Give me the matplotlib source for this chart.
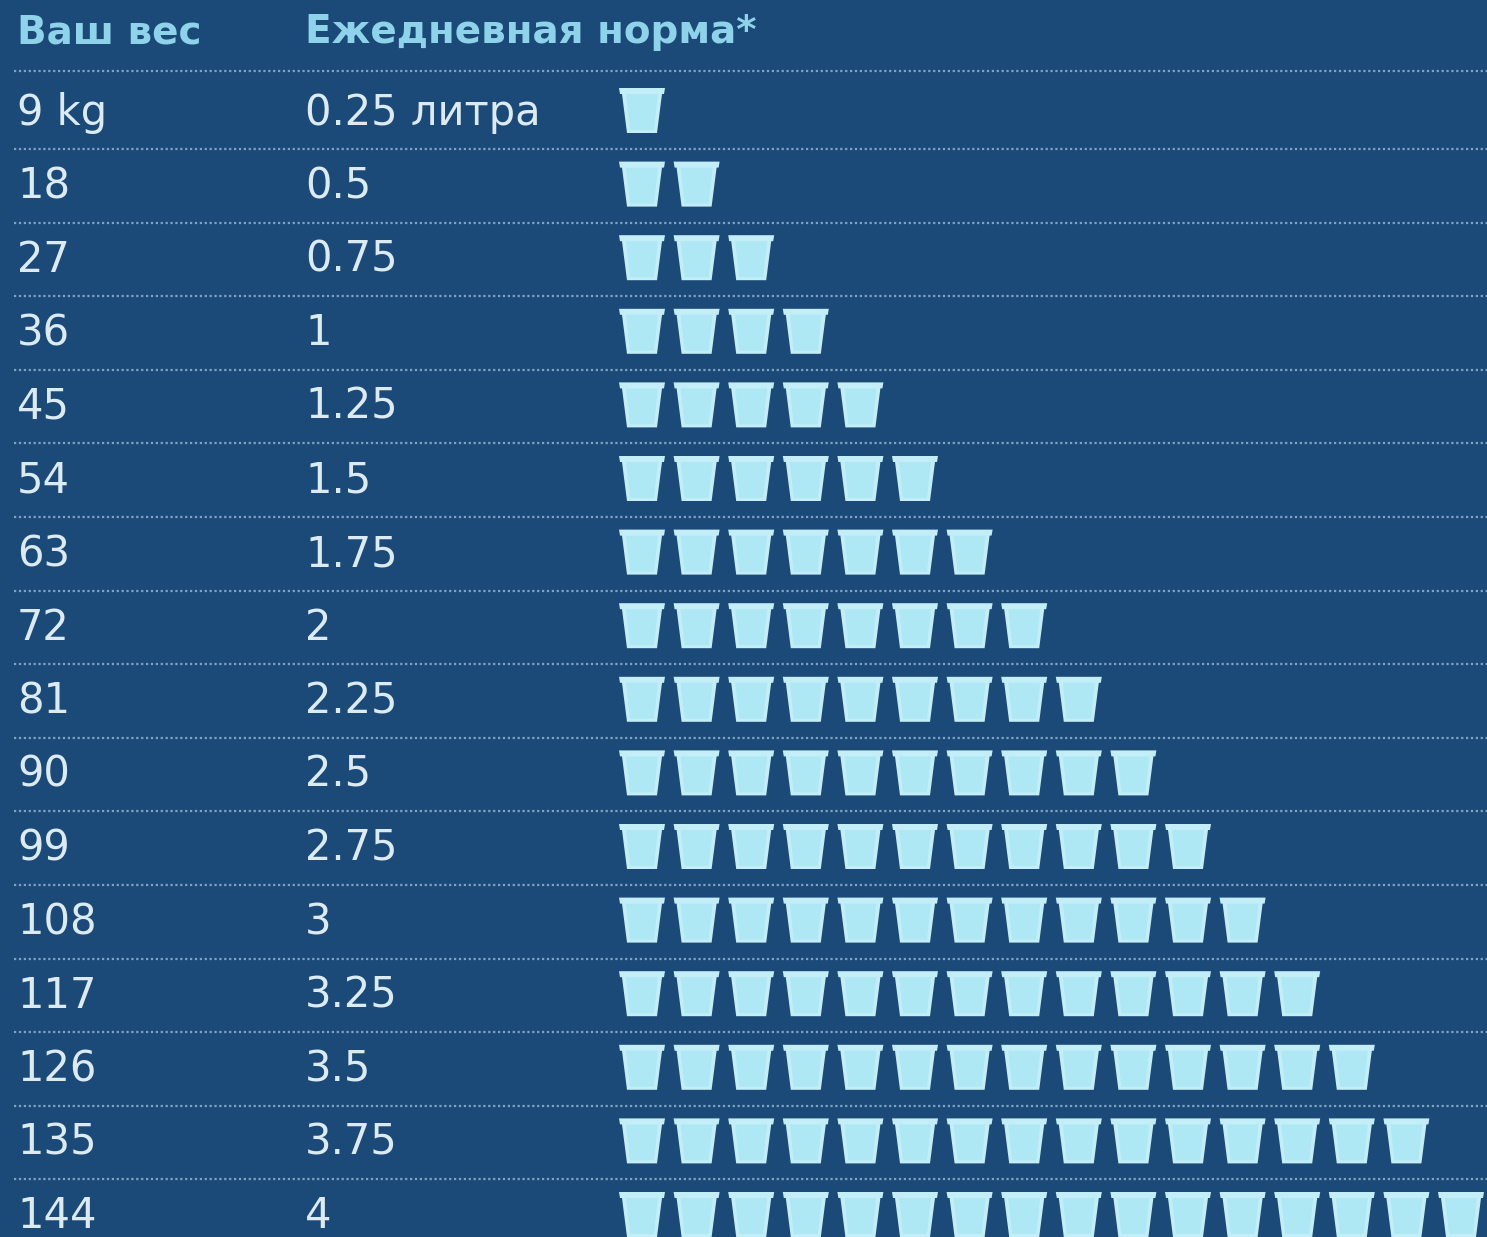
#!/usr/bin/env python

import matplotlib
matplotlib.use("Agg")
import matplotlib.pyplot as plt

BG = "#1c4a78"
HEAD = "#8fd3ea"
TEXT = "#dcebf2"
CUP_EDGE = "#c4eef7"
CUP_FILL = "#aee8f5"
DOTS = "#7fa3c4"

headers = ["Ваш вес", "Ежедневная норма*"]
weights = ["9 kg", "18", "27", "36", "45", "54", "63", "72", "81", "90", "99", "108",
           "117", "126", "135", "144"]
liters = ["0.25 литра", "0.5", "0.75", "1", "1.25", "1.5", "1.75", "2", "2.25", "2.5",
          "2.75", "3", "3.25", "3.5", "3.75", "4"]
cups = [1, 2, 3, 4, 5, 6, 7, 8, 9, 10, 11, 12, 13, 14, 15, 16]

ROW_H = 73.6
FIRST_ROW = 110
CUP_X = 642
CUP_STEP = 54.6

plt.rcParams['font.family'] = ['DejaVu Sans']

fig = plt.figure(figsize=(14.87, 12.37), dpi=100, facecolor=BG)
ax = fig.add_axes([0, 0, 1, 1])
ax.set_xlim(0, 1487)
ax.set_ylim(1237, 0)
ax.axis('off')


def draw_cup(cx, cy):
    # rim on top, tapered body below
    top = cy - 22
    bottom = cy + 23
    ax.fill([cx - 23, cx + 23, cx + 22, cx + 20, cx + 15, cx - 15, cx - 20, cx - 22],
            [top, top, top + 6, top + 6, bottom, bottom, top + 6, top + 6],
            color=CUP_EDGE, lw=0, zorder=3)
    ax.fill([cx - 16, cx + 16, cx + 12, cx - 12],
            [top + 6, top + 6, bottom - 3, bottom - 3],
            color=CUP_FILL, lw=0, zorder=4)


ax.text(17, 43, headers[0], color=HEAD, fontsize=28, fontweight='bold', va='baseline', ha='left')
ax.text(305, 43, headers[1], color=HEAD, fontsize=28, fontweight='bold', va='baseline', ha='left')
ax.plot([14, 1487], [71, 71], color=DOTS, lw=1.6, ls=(0, (1, 1.2)), zorder=1)

for i in range(len(weights)):
    y = FIRST_ROW + i * ROW_H
    ax.text(17, y + 14.5, weights[i], color=TEXT, fontsize=30, va='baseline', ha='left')
    ax.text(305, y + 14.5, liters[i], color=TEXT, fontsize=30, va='baseline', ha='left')
    for j in range(cups[i]):
        draw_cup(CUP_X + j * CUP_STEP, y)
    if i < len(weights) - 1:
        ax.plot([14, 1487], [y + 39, y + 39], color=DOTS, lw=1.6, ls=(0, (1, 1.2)), zorder=1)

fig.savefig("out.png", dpi=100, facecolor=BG)
